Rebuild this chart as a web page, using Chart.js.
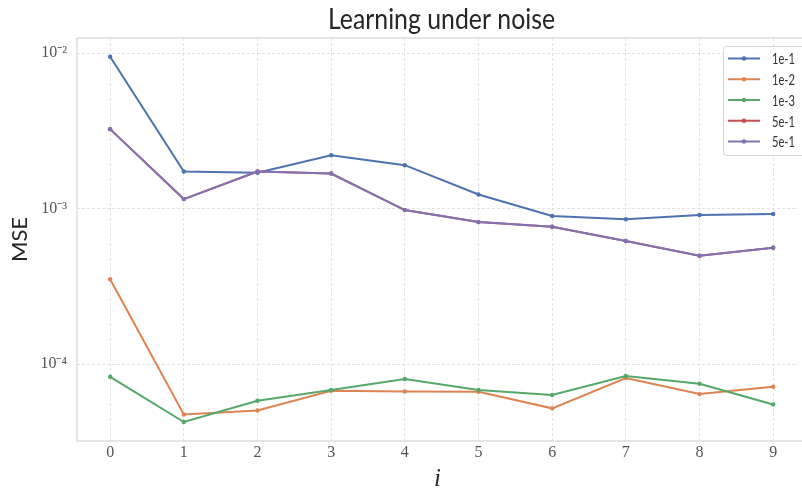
<!DOCTYPE html>
<html><head><meta charset="utf-8">
<script src="https://cdn.jsdelivr.net/npm/chart.js@4/dist/chart.umd.min.js"></script>
<style>html,body{margin:0;padding:0;background:#fff}#wrap{width:802px;height:491px;position:relative;overflow:hidden}</style>
</head><body><div id="wrap"><canvas id="c" width="802" height="491"></canvas></div>
<script>
// ---- data ----
const steps = [0,1,2,3,4,5,6,7,8,9];
const seriesLabels = ['1e-1','1e-2','1e-3','5e-1','5e-1'];
const seriesColors = ['#4c72b0','#dd8452','#55a868','#c44e52','#8172b3'];
const mse_1e1  = [9.46e-3,1.73e-3,1.70e-3,2.20e-3,1.90e-3,1.23e-3,8.95e-4,8.53e-4,9.09e-4,9.22e-4];
const mse_1e2  = [3.51e-4,4.74e-5,5.03e-5,6.73e-5,6.67e-5,6.63e-5,5.19e-5,8.13e-5,6.41e-5,7.14e-5];
const mse_1e3  = [8.28e-5,4.24e-5,5.81e-5,6.81e-5,8.01e-5,6.81e-5,6.32e-5,8.37e-5,7.47e-5,5.50e-5];
const mse_5e1a = [3.24e-3,1.15e-3,1.73e-3,1.68e-3,9.77e-4,8.18e-4,7.64e-4,6.18e-4,4.97e-4,5.60e-4];
const mse_5e1b = [3.24e-3,1.15e-3,1.73e-3,1.68e-3,9.77e-4,8.18e-4,7.64e-4,6.18e-4,4.97e-4,5.60e-4];
const seriesValues = [mse_1e1, mse_1e2, mse_1e3, mse_5e1a, mse_5e1b];
const yTickValues = [1e-4, 1e-3, 1e-2];
const yTickLabels = ['10\u207B\u2074', '10\u207B\u00B3', '10\u207B\u00B2'];
const xTickValues = steps;
const titleText = 'Learning under noise';
const xTitle = 'i';
const yTitle = 'MSE';

const datasets = seriesValues.map((vals, i) => ({
  label: seriesLabels[i],
  data: vals.map((v, k) => ({x: steps[k], y: v})),
  borderColor: seriesColors[i],
  backgroundColor: seriesColors[i],
  pointBackgroundColor: seriesColors[i],
  pointBorderColor: seriesColors[i],
  pointBorderWidth: 0,
  pointRadius: 2.2,
  borderWidth: 2,
  tension: 0,
  order: seriesValues.length - 1 - i
}));

const framePlugin = {
  id: 'frame',
  beforeDatasetsDraw(chart) {
    const {ctx, chartArea: a} = chart;
    ctx.save();
    ctx.strokeStyle = '#d6d6d6';
    ctx.lineWidth = 1.25;
    ctx.strokeRect(a.left, a.top, a.right - a.left + 20, a.bottom - a.top);
    ctx.restore();
  }
};

const titlePlugin = {
  id: 'condensedTitle',
  afterDraw(chart) {
    const {ctx} = chart;
    ctx.save();
    ctx.font = '400 28px Lato';
    ctx.fillStyle = '#262626';
    ctx.textAlign = 'center';
    ctx.textBaseline = 'alphabetic';
    ctx.fillText(titleText, 441.5, 28.5, 227);
    ctx.restore();
  }
};

const legendPlugin = {
  id: 'boxLegend',
  afterDraw(chart) {
    const {ctx} = chart;
    const x0 = 723.5, y0 = 46.5, w = 100, h = 109;
    ctx.save();
    ctx.beginPath();
    ctx.roundRect(x0, y0, w, h, 3);
    ctx.fillStyle = 'rgba(255,255,255,0.8)';
    ctx.fill();
    ctx.strokeStyle = '#d4d4d4';
    ctx.lineWidth = 1;
    ctx.stroke();
    ctx.font = '15px Lato';
    ctx.textBaseline = 'middle';
    ctx.textAlign = 'left';
    seriesLabels.forEach((lab, i) => {
      const y = 58.5 + i * 20.75;
      ctx.strokeStyle = seriesColors[i];
      ctx.lineWidth = 2;
      ctx.beginPath(); ctx.moveTo(728, y); ctx.lineTo(760, y); ctx.stroke();
      ctx.fillStyle = seriesColors[i];
      ctx.beginPath(); ctx.arc(744, y, 2.2, 0, Math.PI * 2); ctx.fill();
      ctx.fillStyle = '#333';
      ctx.fillText(lab, 772, y + 1, 23);
    });
    ctx.restore();
  }
};

new Chart(document.getElementById('c'), {
  type: 'line',
  data: { datasets },
  options: {
    responsive: false,
    animation: false,
    devicePixelRatio: 1,
    layout: { padding: { left: 0, right: 0, top: 38, bottom: 0 } },
    plugins: {
      legend: { display: false },
      tooltip: { enabled: false },
      title: { display: false }
    },
    scales: {
      x: {
        type: 'linear', min: -0.45, max: 9.337,
        afterBuildTicks(s) { s.ticks = xTickValues.map(v => ({value: v})); },
        afterFit(s) { s.height = 50; },
        ticks: { color: '#555', font: { family: '"Liberation Serif"', size: 16 }, padding: 2,
                 callback: v => String(v), maxRotation: 0 },
        grid: { color: '#dcdcdc', lineWidth: 0.8, drawTicks: false },
        border: { display: false, dash: [3, 2] },
        title: { display: true, text: xTitle, color: '#262626',
                 font: { family: '"Liberation Serif"', style: 'italic', size: 25, lineHeight: 1 },
                 padding: { top: 0, bottom: -1 } }
      },
      y: {
        type: 'logarithmic', min: 3.2e-5, max: 1.249e-2,
        afterBuildTicks(s) { s.ticks = yTickValues.map(v => ({value: v})); },
        afterFit(s) { s.width = 77; },
        ticks: { color: '#555', font: { family: '"Liberation Serif"', size: 16 }, padding: 10,
                 callback: (v) => yTickLabels[yTickValues.findIndex(t => Math.abs(Math.log10(t) - Math.log10(v)) < 1e-6)] },
        grid: { color: '#dcdcdc', lineWidth: 0.8, drawTicks: false },
        border: { display: false, dash: [3, 2] },
        title: { display: true, text: yTitle, color: '#262626',
                 font: { family: 'Lato', size: 22, lineHeight: 1.2 },
                 padding: { top: 7, bottom: 0 } }
      }
    }
  },
  plugins: [framePlugin, titlePlugin, legendPlugin]
});
</script>
</body></html>
